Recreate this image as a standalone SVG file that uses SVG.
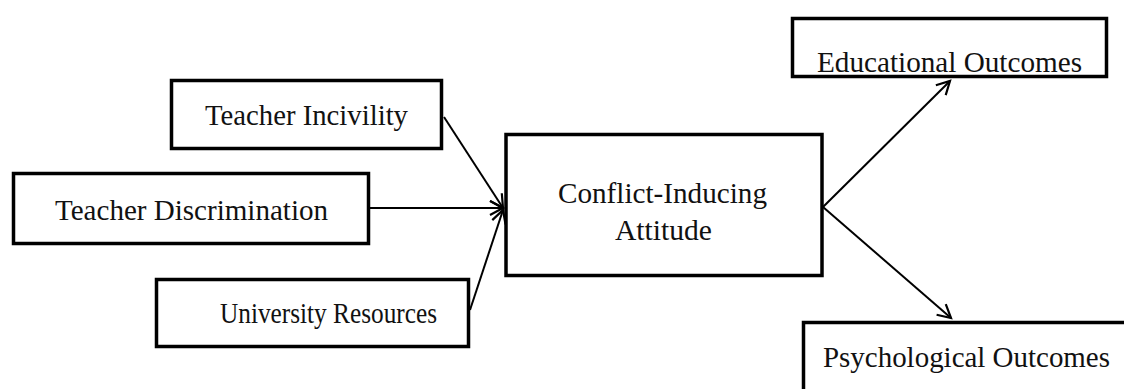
<svg xmlns="http://www.w3.org/2000/svg" width="1124" height="389" viewBox="0 0 1124 389">
<style>
.box{fill:#fff;stroke:#000;stroke-width:3.5}
.lbl{font-family:"Liberation Serif","DejaVu Serif",serif;font-size:28.5px;fill:#111;text-anchor:middle}
.con{stroke:#000;stroke-width:2;fill:none;marker-end:url(#arr)}
</style>
<defs>
<marker id="arr" markerUnits="userSpaceOnUse" markerWidth="20" markerHeight="20" viewBox="0 0 20 20" refX="14" refY="10" orient="auto">
<path d="M1,3 L14,10 L1,17" fill="none" stroke="#000" stroke-width="2.2"/>
</marker>
</defs>
<rect width="1124" height="389" fill="#fff"/>
<g id="connectors">
<line class="con" x1="444" y1="117" x2="503" y2="208"/>
<line class="con" x1="370" y1="208" x2="503" y2="208"/>
<line class="con" x1="470" y1="310" x2="503" y2="210"/>
<line class="con" x1="823" y1="207" x2="950" y2="81"/>
<line class="con" x1="823" y1="207" x2="951" y2="318"/>
</g>
<g id="teacher-incivility">
<rect class="box" x="171.5" y="80.5" width="270" height="68"/>
<text class="lbl" x="306.5" y="125" textLength="203" lengthAdjust="spacingAndGlyphs">Teacher Incivility</text>
</g>
<g id="teacher-discrimination">
<rect class="box" x="13.5" y="173.5" width="355" height="70"/>
<text class="lbl" x="191.5" y="220" textLength="273" lengthAdjust="spacingAndGlyphs">Teacher Discrimination</text>
</g>
<g id="university-resources">
<rect class="box" x="156.5" y="279.5" width="312" height="67"/>
<text class="lbl" x="328.5" y="323" textLength="217" lengthAdjust="spacingAndGlyphs">University Resources</text>
</g>
<g id="conflict-inducing-attitude">
<rect class="box" x="506" y="134.5" width="316" height="141"/>
<text class="lbl" x="662.5" y="203" textLength="209" lengthAdjust="spacingAndGlyphs">Conflict-Inducing</text>
<text class="lbl" x="663.5" y="240" textLength="97" lengthAdjust="spacingAndGlyphs">Attitude</text>
</g>
<g id="educational-outcomes">
<rect class="box" x="792.5" y="18.5" width="314" height="58"/>
<text class="lbl" x="949.5" y="72" textLength="265" lengthAdjust="spacingAndGlyphs">Educational Outcomes</text>
</g>
<g id="psychological-outcomes">
<rect class="box" x="803.5" y="322.5" width="340" height="100"/>
<text class="lbl" x="966.5" y="367" textLength="287" lengthAdjust="spacingAndGlyphs">Psychological Outcomes</text>
</g>
</svg>
